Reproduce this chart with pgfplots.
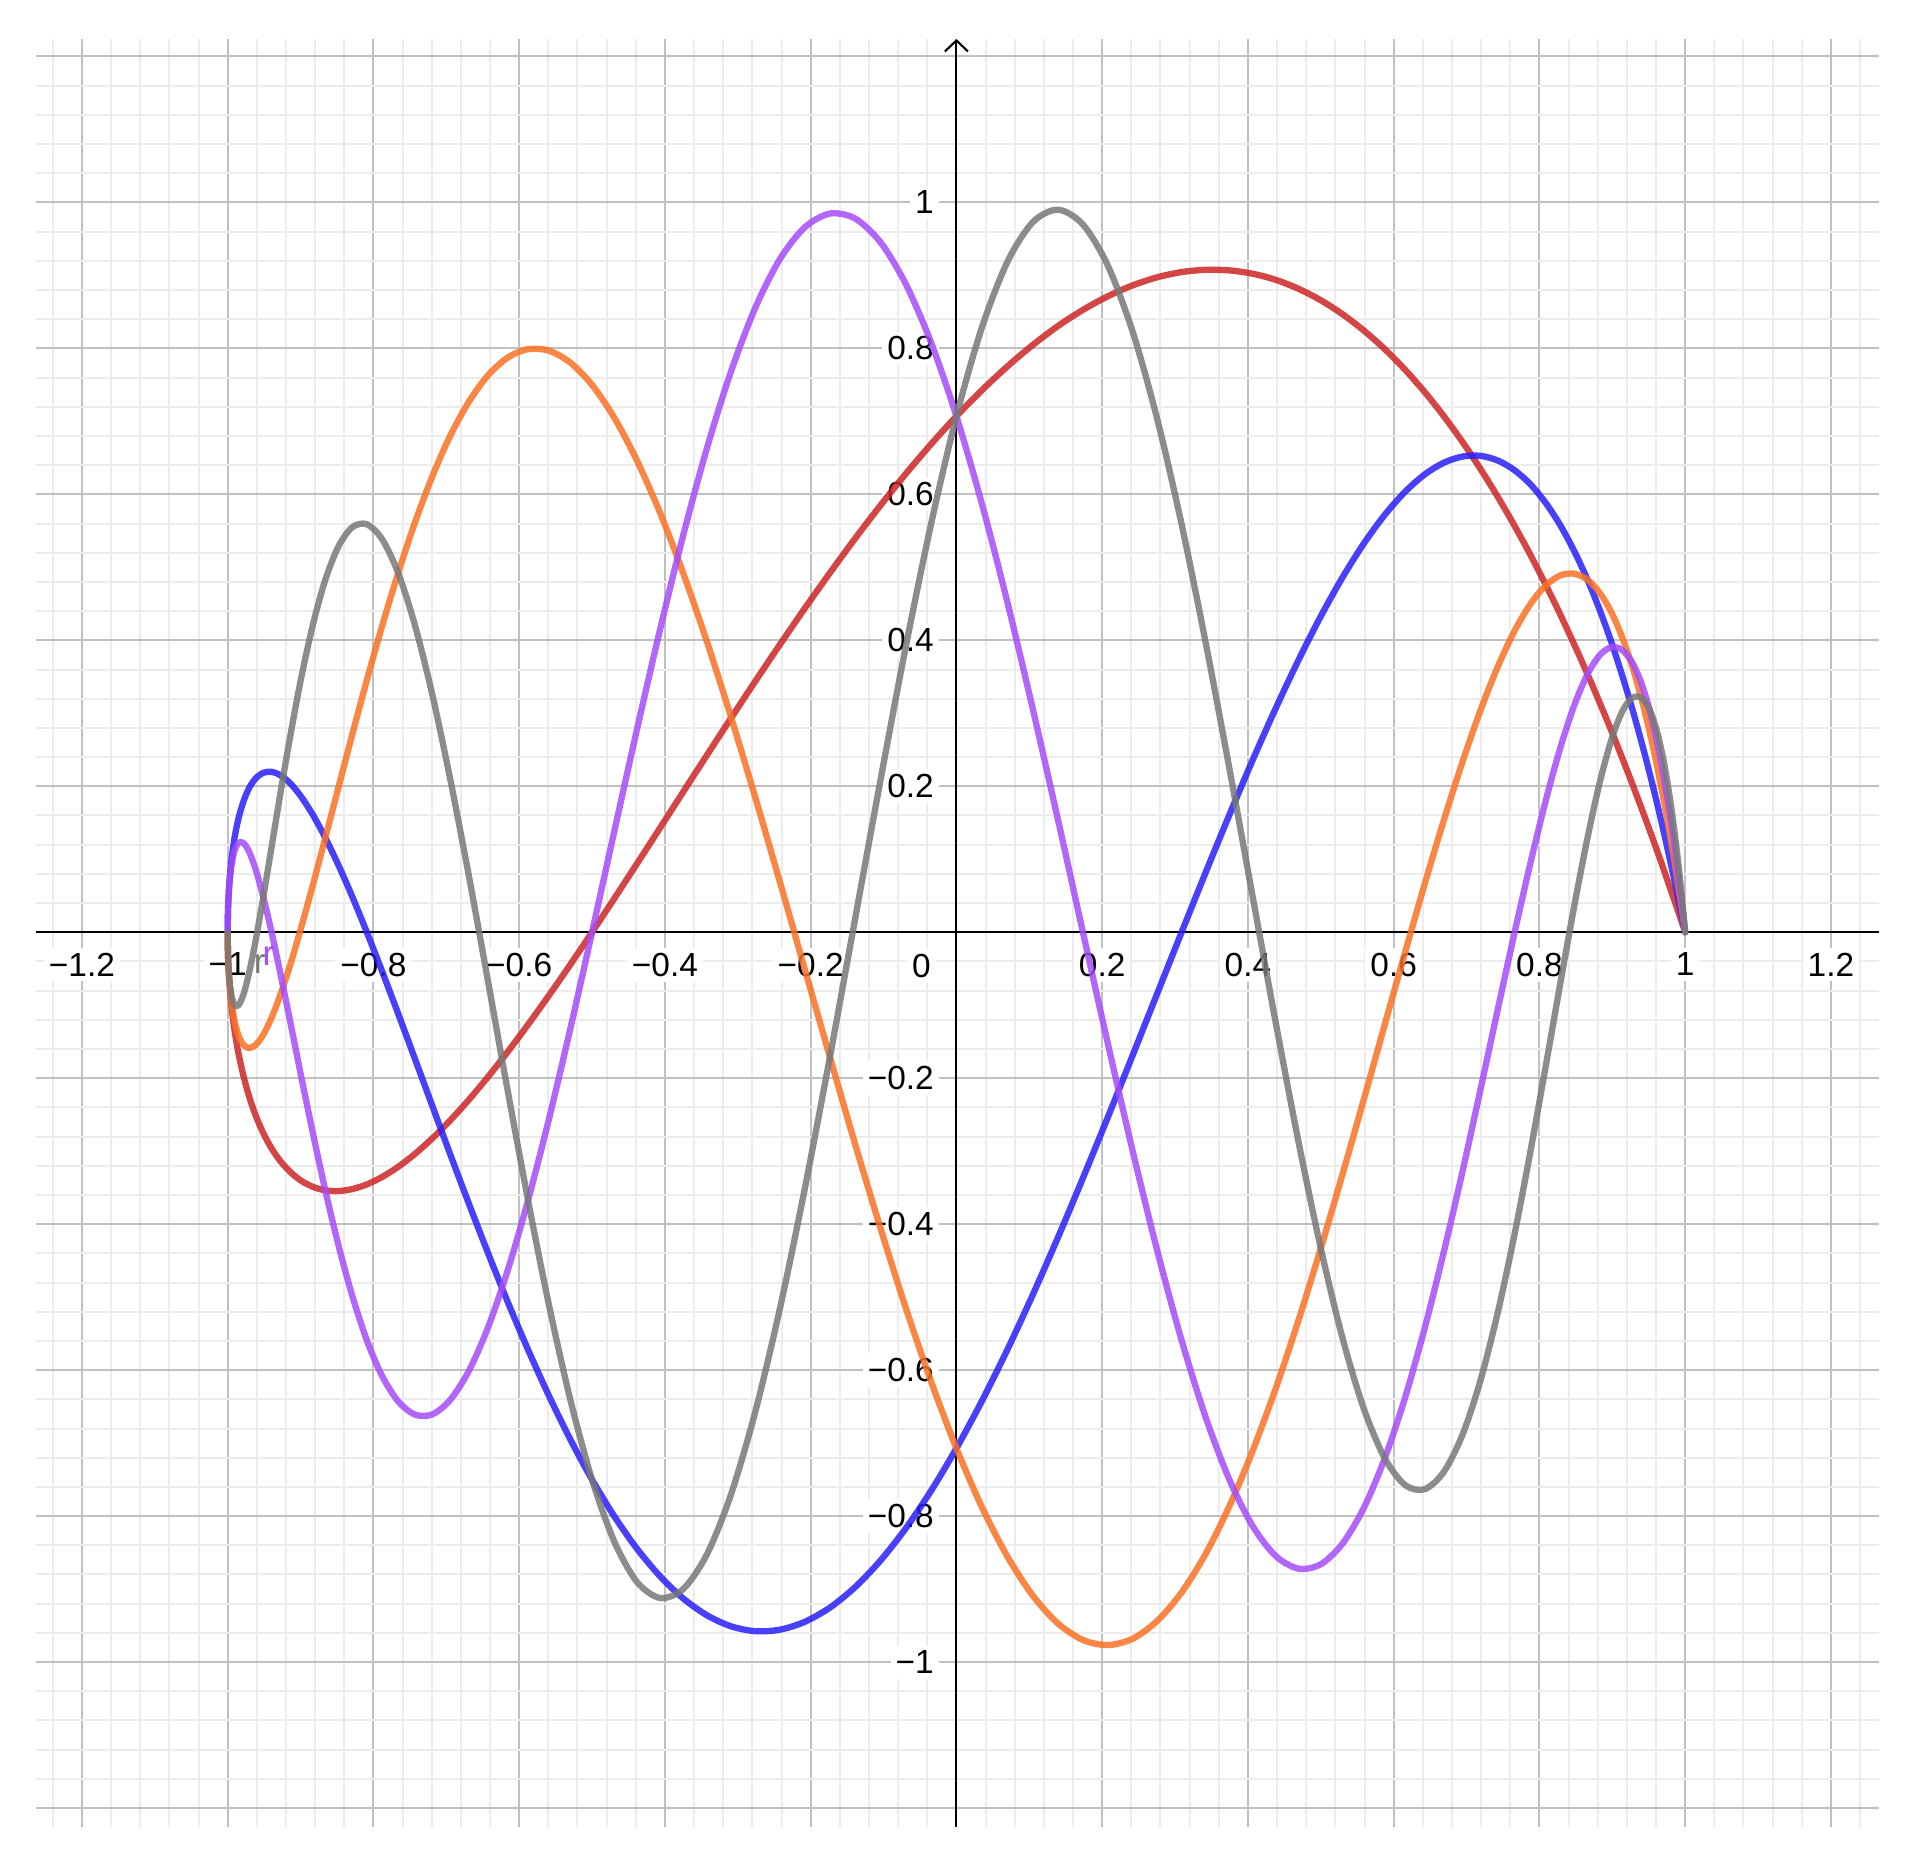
\documentclass[border=0pt]{standalone}
\usepackage{fontspec}
\setmainfont{Liberation Sans}
\usepackage{pgfplots}
\pgfplotsset{compat=1.18}
\usepackage{pgfplotstable}
\usetikzlibrary{arrows.meta}

\definecolor{curvered}{RGB}{205,38,38}
\definecolor{curveblue}{RGB}{40,31,249}
\definecolor{curveorange}{RGB}{249,113,38}
\definecolor{curvepurple}{RGB}{165,75,249}
\definecolor{curvegray}{RGB}{120,120,120}
\definecolor{gridmajor}{RGB}{192,192,192}
\definecolor{gridminor}{RGB}{236,236,236}

% x = cos t, one column per curve
\pgfplotstableread{
x red blue orange purple gray
1 0 0 0 0 0
0.9994 0.0018 0.0030 0.0043 0.0055 0.0067
0.9976 0.0073 0.0121 0.0169 0.0216 0.0261
0.9945 0.0163 0.0270 0.0375 0.0474 0.0569
0.9903 0.0289 0.0476 0.0654 0.0818 0.0967
0.9848 0.0449 0.0734 0.0996 0.1228 0.1422
0.9781 0.0642 0.1040 0.1391 0.1682 0.1899
0.9703 0.0867 0.1388 0.1826 0.2155 0.2357
0.9613 0.1121 0.1772 0.2285 0.2621 0.2754
0.9511 0.1403 0.2185 0.2753 0.3052 0.3052
0.9397 0.1710 0.2620 0.3214 0.3420 0.3214
0.9272 0.2040 0.3069 0.3650 0.3700 0.3211
0.9135 0.2391 0.3522 0.4045 0.3868 0.3022
0.8988 0.2759 0.3973 0.4383 0.3906 0.2638
0.8829 0.3141 0.4412 0.4649 0.3798 0.2058
0.8660 0.3536 0.4830 0.4830 0.3536 0.1294
0.8480 0.3938 0.5218 0.4913 0.3115 0.0370
0.8290 0.4346 0.5571 0.4891 0.2539 -0.0682
0.8090 0.4755 0.5878 0.4755 0.1816 -0.1816
0.7880 0.5164 0.6134 0.4503 0.0963 -0.2985
0.7660 0.5567 0.6330 0.4132 0 -0.4132
0.7431 0.5962 0.6463 0.3644 -0.1046 -0.5200
0.7193 0.6346 0.6528 0.3046 -0.2147 -0.6134
0.6947 0.6715 0.6519 0.2342 -0.3266 -0.6879
0.6691 0.7068 0.6435 0.1545 -0.4368 -0.7390
0.6428 0.7399 0.6275 0.0668 -0.5416 -0.7631
0.6157 0.7707 0.6036 -0.0275 -0.6375 -0.7575
0.5878 0.7990 0.5720 -0.1265 -0.7208 -0.7208
0.5592 0.8244 0.5329 -0.2285 -0.7885 -0.6533
0.5299 0.8468 0.4864 -0.3313 -0.8376 -0.5564
0.5 0.8660 0.4330 -0.4330 -0.8660 -0.4330
0.4695 0.8817 0.3731 -0.5313 -0.8720 -0.2875
0.4384 0.8939 0.3074 -0.6244 -0.8549 -0.1251
0.4067 0.9023 0.2364 -0.7099 -0.8139 0.0478
0.3746 0.9069 0.1610 -0.7863 -0.7501 0.2243
0.3420 0.9077 0.0819 -0.8517 -0.6645 0.3971
0.3090 0.9046 0 -0.9046 -0.5591 0.5591
0.2756 0.8975 -0.0838 -0.9436 -0.4364 0.7031
0.2419 0.8864 -0.1684 -0.9680 -0.2998 0.8228
0.2079 0.8715 -0.2531 -0.9767 -0.1530 0.9132
0.1736 0.8528 -0.3368 -0.9698 0 0.9698
0.1392 0.8306 -0.4185 -0.9470 0.1549 0.9901
0.1045 0.8045 -0.4973 -0.9085 0.3073 0.9727
0.0698 0.7752 -0.5722 -0.8551 0.4529 0.9183
0.0349 0.7427 -0.6424 -0.7875 0.5874 0.8285
0 0.7071 -0.7071 -0.7071 0.7071 0.7071
-0.0349 0.6687 -0.7655 -0.6153 0.8085 0.5589
-0.0698 0.6278 -0.8172 -0.5138 0.8889 0.3898
-0.1045 0.5846 -0.8612 -0.4045 0.9459 0.2068
-0.1392 0.5393 -0.8975 -0.2896 0.9781 0.0173
-0.1736 0.4924 -0.9254 -0.1710 0.9848 -0.1710
-0.2079 0.4441 -0.9448 -0.0512 0.9661 -0.3506
-0.2419 0.3946 -0.9556 0.0677 0.9229 -0.5142
-0.2756 0.3445 -0.9577 0.1834 0.8565 -0.6556
-0.3090 0.2939 -0.9511 0.2939 0.7694 -0.7694
-0.3420 0.2432 -0.9361 0.3971 0.6645 -0.8517
-0.3746 0.1928 -0.9131 0.4913 0.5450 -0.8997
-0.4067 0.1429 -0.8824 0.5749 0.4147 -0.9122
-0.4384 0.0939 -0.8446 0.6465 0.2777 -0.8901
-0.4695 0.0462 -0.8002 0.7051 0.1381 -0.8348
-0.5 0 -0.75 0.75 0 -0.75
-0.5299 -0.0444 -0.6947 0.7806 -0.1326 -0.6400
-0.5592 -0.0866 -0.6350 0.7969 -0.2562 -0.5104
-0.5878 -0.1265 -0.5720 0.7990 -0.3673 -0.3673
-0.6157 -0.1638 -0.5065 0.7875 -0.4632 -0.2172
-0.6428 -0.1982 -0.4394 0.7631 -0.5416 -0.0668
-0.6691 -0.2296 -0.3716 0.7268 -0.6012 0.0777
-0.6947 -0.2578 -0.3040 0.6801 -0.6409 0.2103
-0.7193 -0.2825 -0.2376 0.6244 -0.6607 0.3262
-0.7431 -0.3038 -0.1732 0.5612 -0.6609 0.4211
-0.7660 -0.3214 -0.1116 0.4924 -0.6428 0.4924
-0.7880 -0.3353 -0.0537 0.4199 -0.6081 0.5385
-0.8090 -0.3455 0 0.3455 -0.5591 0.5591
-0.8290 -0.3519 0.0488 0.2711 -0.4982 0.5550
-0.8480 -0.3546 0.0920 0.1985 -0.4287 0.5286
-0.8660 -0.3536 0.1294 0.1294 -0.3536 0.4830
-0.8829 -0.3489 0.1606 0.0654 -0.2760 0.4220
-0.8988 -0.3407 0.1853 0.0077 -0.1990 0.3501
-0.9135 -0.3290 0.2034 -0.0425 -0.1257 0.2721
-0.9272 -0.3142 0.2149 -0.0843 -0.0586 0.1929
-0.9397 -0.2962 0.2198 -0.1170 0 0.1170
-0.9511 -0.2753 0.2185 -0.1403 0.0483 0.0483
-0.9613 -0.2518 0.2111 -0.1541 0.0852 -0.0096
-0.9703 -0.2258 0.1982 -0.1587 0.1098 -0.0544
-0.9781 -0.1977 0.1800 -0.1545 0.1222 -0.0846
-0.9848 -0.1677 0.1573 -0.1422 0.1228 -0.0996
-0.9903 -0.1362 0.1308 -0.1229 0.1126 -0.1001
-0.9945 -0.1032 0.1009 -0.0976 0.0931 -0.0876
-0.9976 -0.0694 0.0687 -0.0677 0.0664 -0.0647
-0.9994 -0.0349 0.0348 -0.0346 0.0345 -0.0343
-1 0 0 0 0 0
}\curves

\begin{document}
\begin{tikzpicture}
\begin{axis}[
  set layers,
  at={(0,0)}, anchor=south west,
  scale only axis, width=184.3mm, height=178.8mm,
  xmin=-1.263, xmax=1.266, ymin=-1.226, ymax=1.224,
  axis lines=middle,
  axis line style={black, line width=0.6pt},
  x axis line style={-},
  y axis line style={-{Straight Barb[length=1.1mm,width=2.3mm]}},
  xtick={-1.2,-1,-0.8,-0.6,-0.4,-0.2,0.2,0.4,0.6,0.8,1,1.2},
  xticklabels={−1.2,−1,−0.8,−0.6,−0.4,−0.2,0.2,0.4,0.6,0.8,1,1.2},
  ytick={-1,-0.8,-0.6,-0.4,-0.2,0.2,0.4,0.6,0.8,1},
  yticklabels={−1,−0.8,−0.6,−0.4,−0.2,0.2,0.4,0.6,0.8,1},
  extra y ticks={-1.2,1.2},
  extra y tick labels={},
  extra y tick style={tick label style={fill=none}},
  minor xtick={-1.24,-1.2,...,1.25},
  minor ytick={-1.2,-1.16,...,1.21},
  major tick length=0pt, minor tick length=0pt,
  grid=both,
  major grid style={draw=gridmajor, line width=0.2mm},
  minor grid style={draw=gridminor, line width=0.2mm},
  tick label style={font=\fontsize{9.5}{11}\selectfont, fill=white, inner sep=0.5mm},
  xticklabel style={anchor=north, yshift=-1.5mm},
  yticklabel style={anchor=east, xshift=-1.7mm},
  every axis plot/.append style={line width=1.8pt, opacity=0.85, smooth, line cap=round, line join=round},
]
\addplot[curvered] table[x=x, y=red] {\curves};
\addplot[curveblue] table[x=x, y=blue] {\curves};
\addplot[curveorange] table[x=x, y=orange] {\curves};
\addplot[curvepurple] table[x=x, y=purple] {\curves};
\addplot[curvegray] table[x=x, y=gray] {\curves};
\node[anchor=north east, fill=white, inner sep=0.5mm, font=\fontsize{9.5}{11}\selectfont, xshift=-2mm, yshift=-1.6mm] at (axis cs:0,0) {0};
\node[text=curvegray, font=\fontsize{10}{12}\selectfont, inner sep=0pt] at (axis cs:-0.956,-0.043) {r};
\node[text=curvepurple, font=\fontsize{10}{12}\selectfont, inner sep=0pt] at (axis cs:-0.944,-0.032) {r};
\end{axis}
\pgfresetboundingbox
\useasboundingbox (-3.6mm,-3.7mm) rectangle (188.0mm,182.7mm);
\end{tikzpicture}
\end{document}
